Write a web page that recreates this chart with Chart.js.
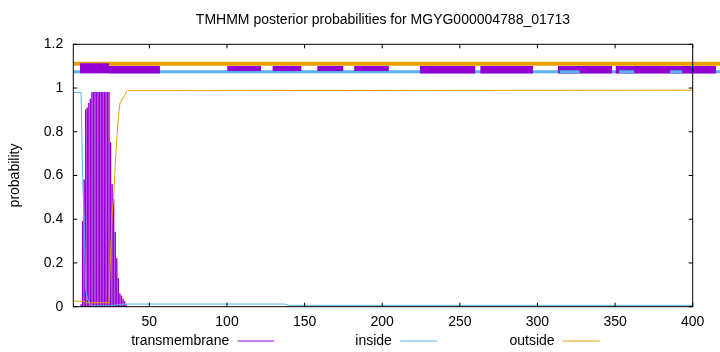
<!DOCTYPE html>
<html>
<head>
<meta charset="utf-8">
<script src="https://cdn.jsdelivr.net/npm/chart.js@4.4.1/dist/chart.umd.min.js"></script>
<style>
  html, body { margin: 0; padding: 0; background: #fff; }
  #wrap { width: 720px; height: 352px; }
</style>
</head>
<body>
<div id="wrap"><canvas id="tmhmm" width="720" height="352"></canvas></div>
<script>
var titleText = 'TMHMM posterior probabilities for MGYG000004788_01713';
var xTicks = [50, 100, 150, 200, 250, 300, 350, 400];
var yTicks = [0, 0.2, 0.4, 0.6, 0.8, 1, 1.2];
var legendOrder = ['transmembrane', 'inside', 'outside'];

var tmResidues = [6, 7, 8, 9, 10, 11, 12, 13, 14, 15, 16, 17, 18, 19, 20, 21, 22, 23, 24,
                  25, 26, 27, 28, 29, 30, 31, 32, 33, 34, 35];
var tmProb = [0.01, 0.39, 0.58, 0.90, 0.91, 0.93, 0.95, 0.98, 0.98, 0.98, 0.98, 0.98, 0.98,
              0.98, 0.98, 0.98, 0.98, 0.98, 0.98,
              0.75, 0.56, 0.49, 0.34, 0.22, 0.13, 0.06, 0.05, 0.035, 0.025, 0.01];

var insideResidues = [1, 6, 7, 8, 9, 10, 11, 12, 13, 24, 30, 35, 137, 140, 400];
var insideProb = [0.98, 0.98, 0.59, 0.40, 0.08, 0.04, 0.02, 0.01, 0.004, 0.004, 0.01, 0.012,
                  0.012, 0.006, 0.006];

var outsideResidues = [1, 8, 9, 24, 25, 26, 27, 28, 29, 30, 31, 32, 33, 34, 35, 36, 400];
var outsideProb = [0.025, 0.025, 0.018, 0.018, 0.24, 0.43, 0.50, 0.65, 0.77, 0.86, 0.93, 0.94,
                   0.955, 0.965, 0.98, 0.988, 0.99];

/* predicted topology strips above the curves: [from, to] in residues */
var outsideStrip = [[1, 417.6]];
var insideStrip = [[1, 417.6]];
var insideStripOver = [[314.3, 327.2], [352.6, 362.3], [385.4, 393.2]];
var helixTall = [[5.3, 24.0]];
var helixWide = [[24.0, 56.8], [224.3, 259.9], [263.2, 297.1], [313.2, 348.0], [350.4, 415.0]];
var helixNarrow = [[100.2, 121.9], [129.4, 147.9], [158.2, 174.9], [182.0, 204.2]];

var outsideLevel = 1.111;
var insideLevel = 1.0746;
var helixTallLevel = 1.0902;
var helixWideLevel = 1.0836;
var helixNarrowLevel = 1.0893;

var purple = '#9400d3';
var blue = '#56b4e9';
var orange = '#e69f00';
var fontFamily = '"Liberation Sans", Arial, sans-serif';

function pts(xs, ys) {
  return xs.map(function(x, i) { return { x: x, y: ys[i] }; });
}

function strip(list, level) {
  var out = [];
  list.forEach(function(s) {
    out.push({ x: s[0], y: level });
    out.push({ x: s[1], y: level });
    out.push({ x: s[1], y: null });
  });
  return out;
}

function stripSet(list, level, color, width, order) {
  return {
    type: 'line',
    data: strip(list, level),
    borderColor: color,
    borderWidth: width,
    borderCapStyle: 'butt',
    pointRadius: 0,
    spanGaps: false,
    clip: false,
    order: order
  };
}

Chart.defaults.font.family = fontFamily;
Chart.defaults.font.size = 14;
Chart.defaults.color = '#000';

var gnuplotFrame = {
  id: 'gnuplotFrame',
  afterDatasetsDraw: function(chart) {
    var c = chart.ctx;
    var a = chart.chartArea;
    var xs = chart.scales.x;
    var ys = chart.scales.y;
    c.save();
    c.strokeStyle = '#000';
    c.lineWidth = 1;
    c.strokeRect(a.left, a.top, a.right - a.left, a.bottom - a.top);
    /* inward ticks, mirrored on the opposite border */
    c.beginPath();
    xTicks.forEach(function(v) {
      var px = xs.getPixelForValue(v);
      c.moveTo(px, a.bottom); c.lineTo(px, a.bottom - 4);
      c.moveTo(px, a.top); c.lineTo(px, a.top + 4);
    });
    yTicks.forEach(function(v) {
      var py = ys.getPixelForValue(v);
      c.moveTo(a.left, py); c.lineTo(a.left + 4, py);
      c.moveTo(a.right, py); c.lineTo(a.right - 4, py);
    });
    c.stroke();

    /* title centred on the plot area */
    c.fillStyle = '#000';
    c.font = '14px ' + fontFamily;
    c.textAlign = 'center';
    c.textBaseline = 'middle';
    c.fillText(titleText, (a.left + a.right) / 2, 20);

    /* legend: label text then a short sample line */
    legendOrder.forEach(function(name, i) {
      var d = chart.data.datasets.filter(function(ds) { return ds.label === name; })[0];
      var lx = 237.7 + i * 162.7;
      var ly = 341;
      c.textAlign = 'right';
      c.fillStyle = '#000';
      c.fillText(d.label, lx - 8.5, ly);
      c.beginPath();
      c.strokeStyle = d._legendColor;
      c.lineWidth = 1;
      c.moveTo(lx, ly);
      c.lineTo(lx + 36.6, ly);
      c.stroke();
    });
    c.restore();
  }
};

new Chart(document.getElementById('tmhmm'), {
  type: 'line',
  data: {
    datasets: [
      stripSet(insideStripOver, insideLevel, blue, 3, 1),
      stripSet(helixTall, helixTallLevel, purple, 10, 2),
      stripSet(helixWide, helixWideLevel, purple, 7.5, 2),
      stripSet(helixNarrow, helixNarrowLevel, purple, 5, 2),
      stripSet(insideStrip, insideLevel, blue, 3, 3),
      stripSet(outsideStrip, outsideLevel, orange, 4, 4),
      {
        type: 'line',
        label: 'outside',
        _legendColor: orange,
        data: pts(outsideResidues, outsideProb),
        borderColor: orange,
        borderWidth: 1,
        pointRadius: 0,
        order: 5
      },
      {
        type: 'line',
        label: 'inside',
        _legendColor: blue,
        data: pts(insideResidues, insideProb),
        borderColor: blue,
        borderWidth: 1,
        pointRadius: 0,
        order: 6
      },
      {
        type: 'bar',
        label: 'transmembrane',
        _legendColor: purple,
        data: pts(tmResidues, tmProb),
        backgroundColor: purple,
        borderWidth: 0,
        barThickness: 0.75,
        grouped: false,
        order: 7
      }
    ]
  },
  options: {
    responsive: false,
    animation: false,
    events: [],
    layout: { padding: { top: 44.3, right: 27.3, bottom: 0, left: 0 } },
    plugins: {
      legend: { display: false },
      title: { display: false },
      tooltip: { enabled: false }
    },
    scales: {
      x: {
        type: 'linear',
        min: 1,
        max: 400,
        offset: false,
        grid: { display: false, drawTicks: false },
        border: { display: false },
        afterBuildTicks: function(s) { s.ticks = xTicks.map(function(v) { return { value: v }; }); },
        afterFit: function(s) { s.height = 45.3; },
        ticks: { padding: 7, maxRotation: 0, autoSkip: false, color: '#000',
                 callback: function(v) { return String(v); } }
      },
      y: {
        min: 0,
        max: 1.2,
        grid: { display: false, drawTicks: false },
        border: { display: false },
        afterBuildTicks: function(s) { s.ticks = yTicks.map(function(v) { return { value: v }; }); },
        afterFit: function(s) { s.width = 73.3; },
        ticks: { padding: 10, color: '#000', callback: function(v) { return String(v); } },
        title: { display: true, text: 'probability', color: '#000', padding: { top: 7, bottom: 0 } }
      }
    }
  },
  plugins: [gnuplotFrame]
});
</script>
</body>
</html>
